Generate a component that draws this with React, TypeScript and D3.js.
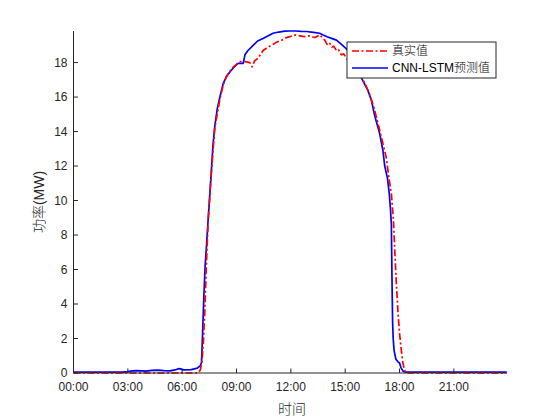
import React from "react";
import * as d3 from "d3";

const xTickLabels = ["00:00", "03:00", "06:00", "09:00", "12:00", "15:00", "18:00", "21:00"];
const yTickValues = [0, 2, 4, 6, 8, 10, 12, 14, 16, 18];

const realTimes = [
  "00:00", "06:45", "06:55", "07:00", "07:05", "07:10", "07:15", "07:20", "07:26", "07:37", "07:48",
  "08:05", "08:16", "08:27", "08:38", "08:50", "09:00", "09:11", "09:30", "09:44", "09:52",
  "10:00", "10:11", "10:28", "10:45", "11:00", "11:15", "11:30", "11:45", "11:56", "12:15",
  "12:30", "12:45", "13:02", "13:20", "13:36", "13:52", "14:00", "14:08", "14:16", "14:22",
  "14:31", "14:38", "14:47", "14:55", "15:04", "15:15", "15:30", "15:45", "15:54", "16:05",
  "16:20", "16:35", "16:54", "17:05", "17:16", "17:25", "17:33", "17:40", "17:45", "17:50",
  "17:55", "18:00", "18:06", "18:11", "18:16", "18:22", "23:55"
];
const realValues = [
  0, 0, 0.05, 0.17, 0.6, 1.7, 3.6, 6.2, 8.8, 11.7, 14.2,
  15.9, 16.7, 17.2, 17.5, 17.75, 17.9, 18.05, 18.05, 18.0, 17.75,
  18.1, 18.25, 18.7, 18.9, 19.05, 19.2, 19.3, 19.45, 19.5, 19.6,
  19.55, 19.5, 19.55, 19.45, 19.6, 19.3, 19.05, 19.15, 18.9, 18.95,
  18.7, 18.75, 18.45, 18.5, 18.25, 18.0, 17.6, 17.35, 17.15, 16.8,
  16.2, 15.4, 14.1, 13.3, 12.5, 11.3, 10.4, 8.8, 6.8, 5.0,
  3.5, 2.3, 1.3, 0.6, 0.2, 0, 0
];

const predTimes = [
  "00:00", "02:40", "03:00", "03:15", "03:30", "04:00", "04:20", "04:40", "05:00", "05:20",
  "05:40", "05:50", "06:05", "06:30", "06:50", "07:00", "07:04", "07:07", "07:12", "07:16",
  "07:21", "07:26", "07:31", "07:37", "07:42", "07:48", "07:56", "08:05", "08:16", "08:27",
  "08:38", "08:50", "09:05", "09:16", "09:22", "09:28", "09:38", "09:55", "10:10", "10:28",
  "10:45", "11:01", "11:20", "11:40", "11:56", "12:15", "12:35", "12:52", "13:15", "13:35",
  "13:47", "14:00", "14:15", "14:31", "14:45", "15:04", "15:20", "15:35", "15:48", "16:00",
  "16:15", "16:27", "16:38", "16:54", "17:05", "17:11", "17:20", "17:26", "17:30", "17:33",
  "17:35", "17:37", "17:39", "17:42", "17:48", "17:55", "18:00", "18:05", "18:12", "18:20", "23:55"
];
const predValues = [
  0.05, 0.05, 0.08, 0.12, 0.14, 0.11, 0.15, 0.17, 0.14, 0.12,
  0.2, 0.25, 0.18, 0.2, 0.28, 0.42, 0.6, 2.0, 4.5, 6.2,
  7.5, 8.9, 10.2, 11.8, 13.2, 14.3, 15.3, 16.0, 16.8, 17.2,
  17.45, 17.7, 17.95, 17.95, 17.95, 18.45, 18.7, 19.0, 19.25, 19.4,
  19.55, 19.7, 19.77, 19.82, 19.83, 19.83, 19.81, 19.8, 19.75, 19.7,
  19.6, 19.5, 19.4, 19.3, 19.1, 18.8, 18.4, 17.9, 17.3, 16.9,
  16.4, 15.8, 14.9, 13.9, 12.9, 12.0, 11.3, 10.4, 9.5, 8.6,
  5.5, 3.0, 2.0, 1.3, 0.8, 0.65, 0.58, 0.3, 0.1, 0.05, 0.05
];

const legendLabels = ["真实值", "CNN-LSTM预测值"];

const toHours = (s: string) => {
  const [h, m] = s.split(":").map(Number);
  return h + m / 60;
};

export default function App() {
  const W = 560, H = 420;
  const left = 73.5, right = 506.7, top = 31, bottom = 373;
  const x = d3.scaleLinear().domain([0, 23 + 55 / 60]).range([left, right]);
  const y = d3.scaleLinear().domain([0, 19.83]).range([bottom, top]);

  const realData = realTimes.map((t, i) => [toHours(t), realValues[i]] as [number, number]);
  const predData = predTimes.map((t, i) => [toHours(t), predValues[i]] as [number, number]);
  const line = d3.line<[number, number]>().x(d => x(d[0])).y(d => y(d[1]));

  const axisColor = "#262626";
  const tickFont = "Liberation Sans, Arial, sans-serif";
  const cjkFont = "'Noto Sans CJK SC', sans-serif";
  const dash = "7,2.5,2,2.5";

  const lx = 347, ly = 42, lw = 149, lh = 36;

  return (
    <svg width={W} height={H} style={{ position: "absolute", left: 0, top: 0, background: "#fff" }}>
      <rect x={0} y={0} width={W} height={H} fill="#fff" />
      {/* lines */}
      <path d={line(predData) || ""} fill="none" stroke="#0000ff" strokeWidth={1.7} strokeLinejoin="round" />
      <path d={line(realData) || ""} fill="none" stroke="#ff0000" strokeWidth={1.7} strokeDasharray={dash} strokeLinejoin="round" />

      {/* axes */}
      <line x1={left} x2={left} y1={top} y2={bottom} stroke={axisColor} strokeWidth={1} />
      <line x1={left} x2={right} y1={bottom} y2={bottom} stroke={axisColor} strokeWidth={1} />
      {xTickLabels.map((lab) => {
        const xx = x(toHours(lab));
        return (
          <g key={lab}>
            <line x1={xx} x2={xx} y1={bottom} y2={bottom - 4.5} stroke={axisColor} />
            <text x={xx} y={bottom + 18} textAnchor="middle" fontSize={12} fontFamily={tickFont} fill={axisColor}>{lab}</text>
          </g>
        );
      })}
      {yTickValues.map((v) => {
        const yy = y(v);
        return (
          <g key={v}>
            <line x1={left} x2={left + 4.5} y1={yy} y2={yy} stroke={axisColor} />
            <text x={left - 6} y={yy + 4} textAnchor="end" fontSize={12} fontFamily={tickFont} fill={axisColor}>{v}</text>
          </g>
        );
      })}

      {/* axis labels */}
      <text x={292} y={414} textAnchor="middle" fontSize={14} fontFamily={cjkFont} fontWeight={300} fill={axisColor}>时间</text>
      <text transform={`translate(44,${(top + bottom) / 2}) rotate(-90)`} textAnchor="middle" fontSize={14} fontFamily={cjkFont} fontWeight={300} fill={axisColor}>
        功率<tspan fontFamily={tickFont}>(MW)</tspan>
      </text>

      {/* legend */}
      <rect x={lx} y={ly} width={lw} height={lh} fill="#fff" stroke={axisColor} strokeWidth={1} />
      <line x1={lx + 5} x2={lx + 41} y1={ly + 9} y2={ly + 9} stroke="#ff0000" strokeWidth={1.7} strokeDasharray={dash} />
      <text x={lx + 45} y={ly + 13} fontSize={12} fontFamily={cjkFont} fontWeight={300} fill="#000">{legendLabels[0]}</text>
      <line x1={lx + 5} x2={lx + 41} y1={ly + 26} y2={ly + 26} stroke="#0000ff" strokeWidth={1.7} />
      <text x={lx + 45} y={ly + 30} fontSize={12} fontFamily={tickFont} fill="#000">
        CNN-LSTM<tspan fontFamily={cjkFont} fontWeight={300}>预测值</tspan>
      </text>
    </svg>
  );
}
